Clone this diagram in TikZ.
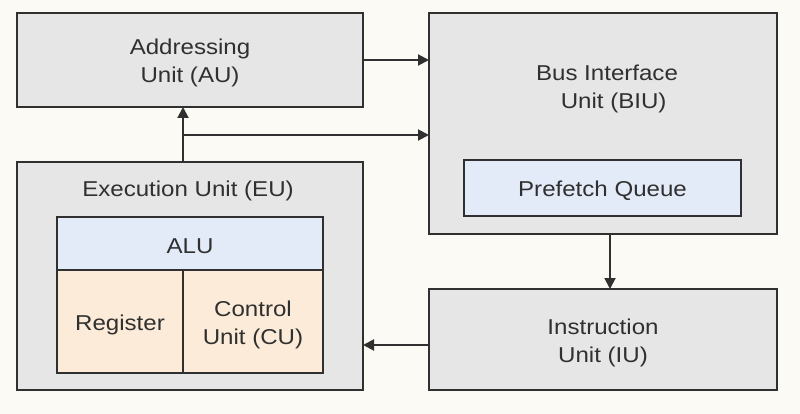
\documentclass[tikz,border=0pt]{standalone}
\usepackage{fontspec}
\setmainfont{Liberation Sans}[FakeStretch=1.12]
\usetikzlibrary{arrows.meta}
\definecolor{bgc}{HTML}{FCFAF5}
\definecolor{boxc}{HTML}{E6E6E6}
\definecolor{bluec}{HTML}{E3EAF8}
\definecolor{orangec}{HTML}{FBEBD8}
\definecolor{linec}{HTML}{303030}
\begin{document}
\begin{tikzpicture}[x=1pt,y=-1pt,
  every node/.style={font=\fontsize{21.5}{28}\selectfont, text=linec, align=center, inner sep=0pt, outer sep=0pt},
  lbl/.style={yshift=-3pt},
  txt/.style={label={[lbl]center:#1}},
  unitbox/.style={draw=linec, line width=2pt, fill=boxc},
  bluebox/.style={draw=linec, line width=2pt, fill=bluec},
  orangebox/.style={draw=linec, line width=2pt, fill=orangec},
  conn/.style={draw=linec, line width=2pt, -{Triangle[length=11pt,width=11pt]}}]
\useasboundingbox[fill=bgc] (0,0) rectangle (800,414);
% outer boxes
\node[unitbox, minimum width=346pt, minimum height=94pt, txt={Addressing\\Unit (AU)}] (AU) at (190,60) {};
\node[unitbox, minimum width=348pt, minimum height=221pt] (BIU) at (603,123.5) {};
\node (BIUt) at (607,89) {Bus Interface\\\ \ Unit (BIU)};
\node[bluebox, minimum width=277pt, minimum height=56pt, txt={Prefetch Queue}] (PQ) at (602.5,188) {};
\node[unitbox, minimum width=346pt, minimum height=228pt] (EU) at (190,276) {};
\node (EUt) at (188,191) {Execution Unit (EU)};
\node[bluebox, minimum width=266pt, minimum height=53pt, txt={ALU}] (ALU) at (190,243.5) {};
\node[orangebox, minimum width=126pt, minimum height=103pt, txt={Register}] (REG) at (120,321.5) {};
\node[orangebox, minimum width=140pt, minimum height=103pt, txt={Control\\Unit (CU)}] (CU) at (253,321.5) {};
\node[unitbox, minimum width=348pt, minimum height=101pt, txt={Instruction\\Unit (IU)}] (IU) at (603,339.5) {};
% connectors
\coordinate (j) at (183,135);
\coordinate (b) at (610,0);
\coordinate (i) at (0,345);
\draw[conn] (AU.east) -- (AU.east -| BIU.west);
\draw[conn] (EU.north -| j) -- (AU.south -| j);
\draw[conn] (j) -- (j -| BIU.west);
\draw[conn] (BIU.south -| b) -- (IU.north -| b);
\draw[conn] (IU.west |- i) -- (EU.east |- i);
\end{tikzpicture}
\end{document}
